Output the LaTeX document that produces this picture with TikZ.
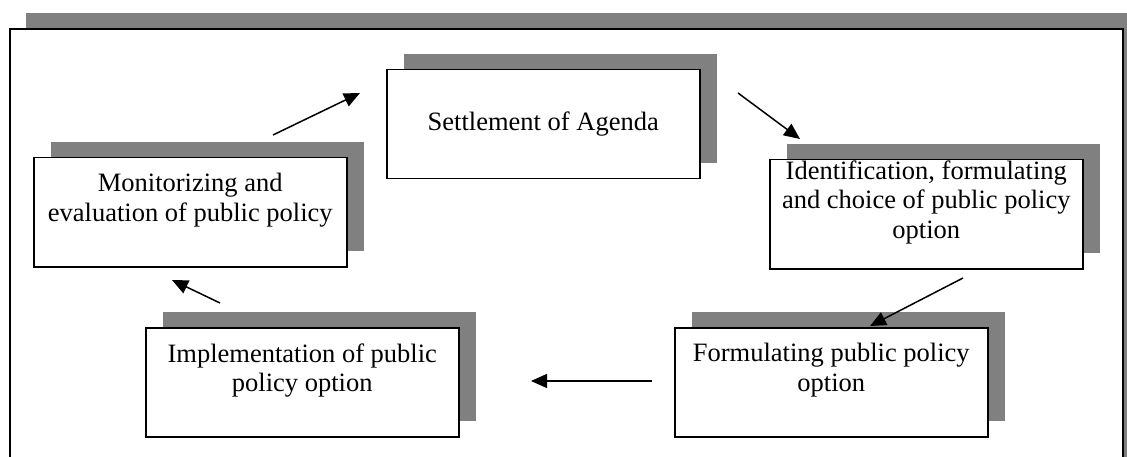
\documentclass[tikz,border=0pt]{standalone}
\usepackage{fontspec}
\setmainfont{Liberation Serif}
\usetikzlibrary{shadows,arrows.meta}

\tikzset{
	stage/.style={draw, line width=1.5pt, fill=white, align=center,
		minimum width=313pt, minimum height=109pt, inner sep=0pt, anchor=north west,
		font=\fontsize{26.5pt}{29.5pt}\selectfont,
		drop shadow={shadow xshift=17pt, shadow yshift=16pt, fill=gray, opacity=1}},
	flow/.style={line width=1.5pt, -{Triangle[length=16pt,width=14pt]}}
}

\begin{document}
\begin{tikzpicture}[x=1pt,y=-1pt]

	\useasboundingbox (0,0) rectangle (1127,457);

	% outer frame, its shadow runs off the page at the bottom
	\fill[gray] (26,13) rectangle (1127,457);
	\fill[white] (10,29) rectangle (1123,457);
	\draw[line width=2pt] (10,457) -- (10,29) -- (1123,29) -- (1123,457);

	% the five stages (a trailing empty line keeps the text high in the box)
	\node[stage] (agenda) at (386,69) {Settlement of Agenda};
	\node[stage] (choice) at (769,159) {Identification, formulating\\and choice of public policy\\option\\~};
	\node[stage] (formul) at (674,327) {Formulating public policy\\option\\~};
	\node[stage] (implem) at (145,327) {Implementation of public\\policy option\\~};
	\node[stage] (monit) at (33,157) {Monitorizing and\\evaluation of public policy\\~};

	% free ends of the arrows
	\coordinate (a1s) at (738,93);   \coordinate (a1e) at (800,139);
	\coordinate (a2s) at (963,278);  \coordinate (a2e) at (870,326);
	\coordinate (a3s) at (652,381);  \coordinate (a3e) at (531,381);
	\coordinate (a4s) at (220,303);  \coordinate (a4e) at (172,280);
	\coordinate (a5s) at (273,135);  \coordinate (a5e) at (360,93);

	\foreach \i in {1,...,5} { \draw[flow] (a\i s) -- (a\i e); }

\end{tikzpicture}
\end{document}
